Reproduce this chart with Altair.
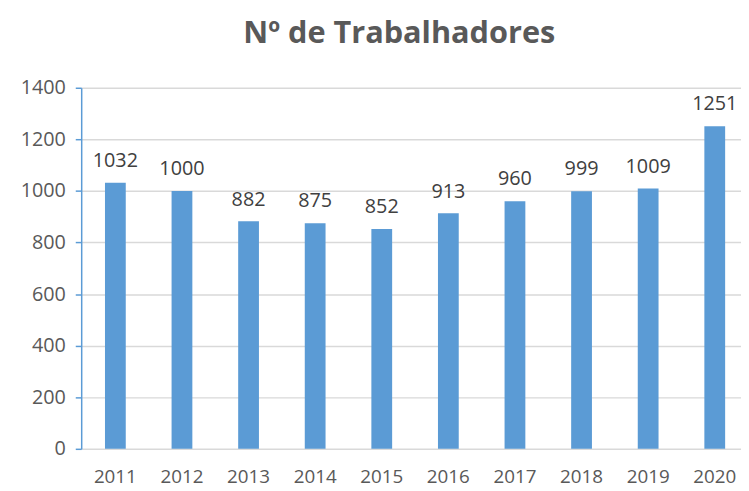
import altair as alt
import pandas as pd

years = ["2011", "2012", "2013", "2014", "2015", "2016", "2017", "2018", "2019", "2020"]
workers = [1032, 1000, 882, 875, 852, 913, 960, 999, 1009, 1251]
y_ticks = [0, 200, 400, 600, 800, 1000, 1200, 1400]

df = pd.DataFrame({"year": years, "workers": workers})

FONT = "Open Sans"

x = alt.X(
    "year:N",
    sort=years,
    title=None,
    scale=alt.Scale(range=[0, 675], paddingInner=0.688, paddingOuter=0.357),
    axis=alt.Axis(
        labelAngle=0, domain=False, ticks=False, labelPadding=19,
        labelFont=FONT, labelFontSize=19, labelColor="#595959",
    ),
)
y = alt.Y(
    "workers:Q",
    title=None,
    scale=alt.Scale(domain=[0, 1400], nice=False),
    axis=alt.Axis(
        values=y_ticks, format="d", domain=True, domainColor="#5B9BD5", domainWidth=1.5,
        ticks=True, tickColor="#5B9BD5", tickSize=6, tickWidth=1.5,
        grid=True, gridColor="#D9D9D9", gridWidth=1.5,
        labelFont=FONT, labelFontSize=20, labelColor="#595959", labelPadding=10,
    ),
)

bars = alt.Chart(df).mark_bar(color="#5B9BD5").encode(x=x, y=y)
labels = alt.Chart(df).mark_text(
    baseline="bottom", dy=-12, font=FONT, fontSize=20, color="#404040"
).encode(x=x, y=y, text="workers:Q")

chart = (
    alt.layer(bars, labels)
    .properties(
        width=659,
        height=365,
        title=alt.TitleParams(
            "Nº de Trabalhadores", font=FONT, fontSize=31, fontWeight="bold",
            color="#595959", anchor="middle", offset=28, dx=-8,
        ),
        autosize=alt.AutoSizeParams(type="none"),
        padding={"left": 74, "top": 78, "right": 8, "bottom": 40},
    )
    .configure_view(stroke=None)
)

chart.save("out.html", embed_options={"renderer": "svg", "actions": False})
